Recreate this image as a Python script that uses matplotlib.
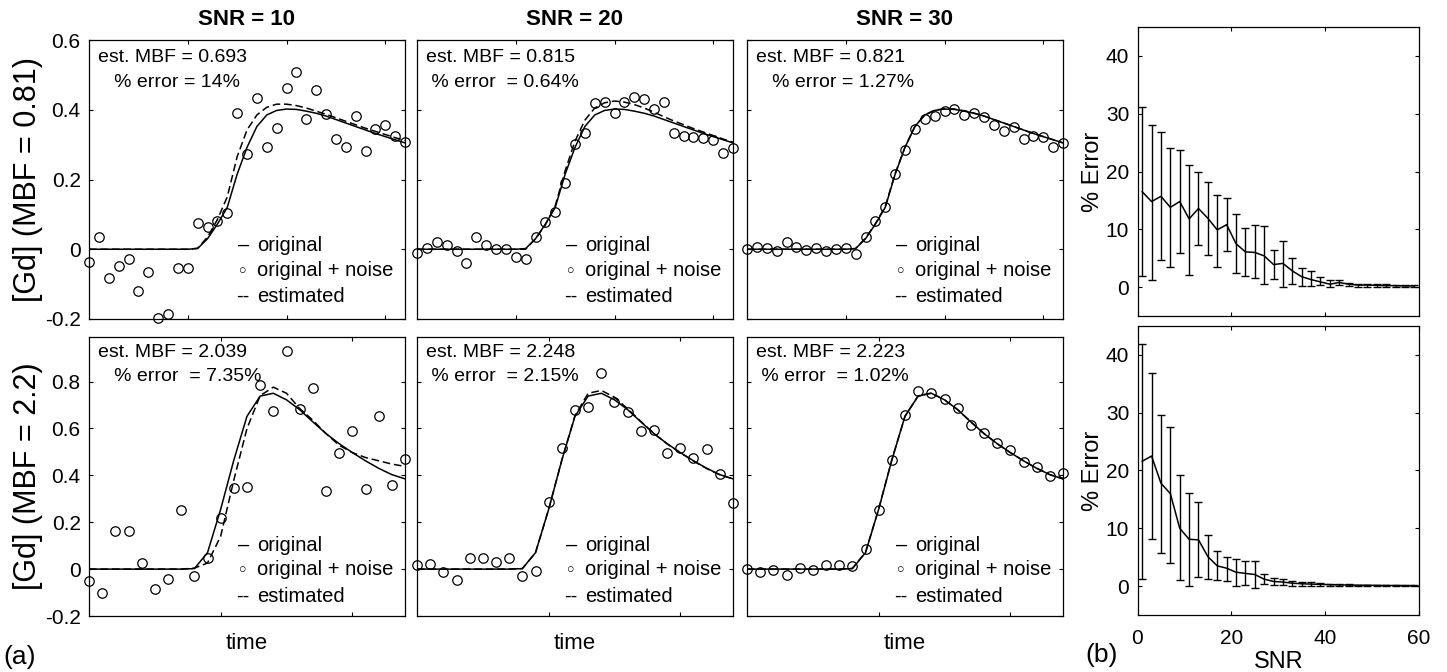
import numpy as np
import matplotlib.pyplot as plt

plt.rcParams['font.family'] = ['Liberation Sans', 'DejaVu Sans']

W, H = 1447, 672

#----------------------------------------------------- DATA
snr_titles = ['SNR = 10', 'SNR = 20', 'SNR = 30']
row_labels = ['[Gd] (MBF = 0.81)', '[Gd] (MBF = 2.2)']

t_top = np.arange(0, 66, 2)   # 33 samples, 0..64
t_bot = np.arange(0, 50, 2)   # 25 samples, 0..48

orig_top = [0, 0, 0, 0, 0, 0, 0, 0, 0, 0, 0,
            0.002, 0.03, 0.072, 0.12, 0.215, 0.292, 0.352, 0.385, 0.398, 0.402, 0.401,
            0.396, 0.39, 0.382, 0.372, 0.362, 0.352, 0.342, 0.332, 0.323, 0.314, 0.305]
est_top = [
    [0, 0, 0, 0, 0, 0, 0, 0, 0, 0, 0,
     0.003, 0.035, 0.085, 0.15, 0.265, 0.342, 0.385, 0.407, 0.416, 0.416, 0.412,
     0.405, 0.396, 0.387, 0.377, 0.367, 0.357, 0.347, 0.338, 0.329, 0.32, 0.312],
    [0, 0, 0, 0, 0, 0, 0, 0, 0, 0, 0,
     0.0, 0.03, 0.07, 0.125, 0.225, 0.31, 0.37, 0.405, 0.42, 0.425, 0.422,
     0.415, 0.405, 0.393, 0.38, 0.368, 0.357, 0.346, 0.336, 0.326, 0.316, 0.307],
    [0, 0, 0, 0, 0, 0, 0, 0, 0, 0, 0,
     0.002, 0.032, 0.073, 0.123, 0.217, 0.293, 0.352, 0.385, 0.399, 0.403, 0.402,
     0.397, 0.39, 0.382, 0.372, 0.362, 0.352, 0.342, 0.332, 0.323, 0.314, 0.305],
]
noisy_top = [
    [-0.036, 0.035, -0.083, -0.048, -0.029, -0.12, -0.064, -0.198, -0.186, -0.055, -0.055,
     0.076, 0.063, 0.082, 0.105, 0.39, 0.272, 0.433, 0.294, 0.347, 0.461, 0.507,
     0.373, 0.457, 0.387, 0.315, 0.292, 0.383, 0.283, 0.344, 0.356, 0.325, 0.308],
    [-0.012, 0.003, 0.022, 0.012, -0.005, -0.038, 0.034, 0.012, 0.001, 0.001, -0.021,
     -0.027, 0.036, 0.079, 0.108, 0.191, 0.302, 0.334, 0.42, 0.423, 0.392, 0.423,
     0.437, 0.43, 0.401, 0.423, 0.332, 0.325, 0.321, 0.318, 0.313, 0.275, 0.29],
    [0.0, 0.006, 0.003, -0.005, 0.022, 0.006, -0.001, 0.003, -0.005, 0.001, 0.003,
     -0.013, 0.036, 0.082, 0.12, 0.216, 0.285, 0.344, 0.373, 0.382, 0.397, 0.403,
     0.384, 0.392, 0.38, 0.356, 0.34, 0.351, 0.315, 0.325, 0.323, 0.292, 0.306],
]

orig_bot = [0, 0, 0, 0, 0, 0, 0, 0,
            0.002, 0.07, 0.255, 0.465, 0.652, 0.738, 0.75, 0.722, 0.68,
            0.628, 0.578, 0.535, 0.497, 0.462, 0.43, 0.403, 0.385]
est_bot = [
    [0, 0, 0, 0, 0, 0, 0, 0,
     0.004, 0.026, 0.14, 0.38, 0.6, 0.74, 0.776, 0.75, 0.685,
     0.635, 0.578, 0.528, 0.497, 0.476, 0.462, 0.448, 0.438],
    [0, 0, 0, 0, 0, 0, 0, 0,
     0.002, 0.07, 0.255, 0.465, 0.655, 0.75, 0.762, 0.733, 0.684,
     0.63, 0.578, 0.534, 0.496, 0.461, 0.429, 0.402, 0.385],
    [0, 0, 0, 0, 0, 0, 0, 0,
     0.003, 0.072, 0.257, 0.466, 0.652, 0.739, 0.751, 0.722, 0.68,
     0.628, 0.578, 0.535, 0.497, 0.462, 0.43, 0.403, 0.385],
]
noisy_bot = [
    [-0.05, -0.10, 0.164, 0.164, 0.026, -0.086, -0.043, 0.251, -0.029, 0.046, 0.219,
     0.347, 0.351, 0.786, 0.676, 0.929, 0.683, 0.772, 0.333, 0.497, 0.59, 0.343,
     0.652, 0.358, 0.47],
    [0.019, 0.022, -0.014, -0.046, 0.046, 0.046, 0.031, 0.046, -0.029, -0.006, 0.286,
     0.516, 0.679, 0.693, 0.836, 0.712, 0.669, 0.59, 0.594, 0.497, 0.516, 0.476,
     0.514, 0.404, 0.283],
    [0.0, -0.014, -0.003, -0.024, 0.004, -0.003, 0.018, 0.018, 0.014, 0.086, 0.251,
     0.466, 0.657, 0.759, 0.752, 0.726, 0.686, 0.614, 0.579, 0.536, 0.508, 0.457,
     0.437, 0.397, 0.409],
]

est_text = [
    [('est. MBF = 0.693', '   % error = 14%'),
     ('est. MBF = 0.815', ' % error  = 0.64%'),
     ('est. MBF = 0.821', '   % error = 1.27%')],
    [('est. MBF = 2.039', '   % error  = 7.35%'),
     ('est. MBF = 2.248', ' % error  = 2.15%'),
     ('est. MBF = 2.223', ' % error  = 1.02%')],
]
legend_marks = ['\u2013', '\u25cb', '--']
legend_words = ['original', 'original + noise', 'estimated']

# panel (b): % error vs SNR
snr = np.arange(1, 61, 2)
err_mean_top = [16.5, 14.8, 15.7, 13.8, 14.8, 11.8, 13.6, 11.9, 9.9, 10.8, 7.5, 6.1, 6.0, 5.4, 3.9,
                4.1, 2.8, 1.8, 1.3, 0.9, 0.5, 0.8, 0.5, 0.35, 0.35, 0.3, 0.25, 0.25, 0.2, 0.2]
err_hi_top = [31.1, 28.1, 26.9, 24.0, 23.7, 21.2, 19.9, 18.1, 16.0, 15.4, 12.7, 10.2, 10.7, 10.6, 6.5,
              8.0, 5.1, 3.3, 2.7, 1.7, 1.2, 1.3, 0.7, 0.6, 0.6, 0.5, 0.45, 0.4, 0.35, 0.35]
err_lo_top = [2.0, 1.3, 4.7, 3.4, 5.9, 2.1, 7.3, 5.6, 3.5, 6.3, 2.4, 2.0, 1.5, 0.5, 1.4,
              0.1, 0.6, 0.2, 0.2, 0.3, 0.1, 0.3, 0.2, 0.1, 0.1, 0.1, 0.1, 0.1, 0.05, 0.05]
err_mean_bot = [21.6, 22.5, 17.8, 16.0, 10.0, 8.1, 8.0, 5.1, 3.5, 3.1, 2.4, 2.2, 2.0, 1.2, 0.8,
                0.7, 0.5, 0.4, 0.35, 0.3, 0.25, 0.2, 0.18, 0.15, 0.15, 0.12, 0.1, 0.1, 0.08, 0.08]
err_hi_bot = [41.9, 36.9, 29.6, 27.6, 19.3, 16.1, 14.5, 8.8, 6.0, 5.1, 4.7, 4.3, 4.3, 2.1, 1.4,
              1.2, 0.9, 0.7, 0.65, 0.5, 0.4, 0.3, 0.28, 0.25, 0.22, 0.2, 0.16, 0.15, 0.12, 0.12]
err_lo_bot = [1.2, 8.2, 5.8, 4.0, 1.1, 0.1, 1.6, 1.3, 1.0, 0.8, 0.1, 0.2, -0.4, 0.3, 0.2,
              0.2, 0.1, 0.1, 0.05, 0.1, 0.1, 0.1, 0.08, 0.05, 0.08, 0.04, 0.04, 0.05, 0.04, 0.04]

#----------------------------------------------------- LAYOUT
fig = plt.figure(figsize=(W / 100, H / 100), dpi=100)

def box(l, t, w, h):  # pixel box -> axes
    return fig.add_axes([l / W, 1 - (t + h) / H, w / W, h / H])

def style(ax):
    for s in ax.spines.values():
        s.set_linewidth(0.9)
    ax.tick_params(direction='in', top=True, right=True, length=2.8, width=0.8,
                   labelsize=15, pad=6)

lefts = [89, 417, 747]
tops = [40, 337]
rows = [
    dict(t=t_top, orig=orig_top, est=est_top, noisy=noisy_top, xlim=(0, 64), xt=[20, 40, 60],
         ylim=(-0.2, 0.6), yt=[-0.2, 0, 0.2, 0.4, 0.6], ytl=['-0.2', '0', '0.2', '0.4', '0.6'],
         ty=(0.939, 0.849), ly=(0.265, 0.173, 0.080)),
    dict(t=t_bot, orig=orig_bot, est=est_bot, noisy=noisy_bot, xlim=(0, 48), xt=[20, 40],
         ylim=(-0.2, 0.99), yt=[-0.2, 0, 0.2, 0.4, 0.6, 0.8],
         ytl=['-0.2', '0', '0.2', '0.4', '0.6', '0.8'],
         ty=(0.944, 0.858), ly=(0.254, 0.165, 0.069)),
]

for r, row in enumerate(rows):
    for c in range(3):
        ax = box(lefts[c], tops[r], 316, 279)
        style(ax)
        ax.plot(row['t'], row['orig'], color='k', lw=1.1)
        ax.plot(row['t'], row['est'][c], color='k', lw=1.1, ls=(0, (5, 2.5)))
        ax.plot(row['t'], row['noisy'][c], 'o', mfc='none', mec='k', ms=6.8, mew=0.9,
                clip_on=False)
        ax.set_xlim(*row['xlim'])
        ax.set_ylim(*row['ylim'])
        ax.set_xticks(row['xt'])
        ax.set_xticklabels([])
        ax.set_yticks(row['yt'])
        if c == 0:
            ax.set_yticklabels(row['ytl'])
        else:
            ax.set_yticklabels([])
        if r == 0:
            ax.set_title(snr_titles[c], fontsize=16, fontweight='bold', pad=11)
        else:
            ax.set_xlabel('time', fontsize=16, labelpad=6)
        l1, l2 = est_text[r][c]
        ax.text(0.028, row['ty'][0], l1, transform=ax.transAxes, fontsize=14, va='center')
        ax.text(0.028, row['ty'][1], l2, transform=ax.transAxes, fontsize=14, va='center')
        for k in range(3):
            fs = 9 if legend_marks[k] == '\u25cb' else 14.5
            ax.text(0.488, row['ly'][k], legend_marks[k], transform=ax.transAxes,
                    fontsize=fs, ha='center', va='center')
            ax.text(0.532, row['ly'][k], legend_words[k], transform=ax.transAxes,
                    fontsize=14.5, va='center')

for r in range(2):
    fig.text(28 / W, 1 - (tops[r] + 139.5) / H, row_labels[r], rotation=90,
             ha='center', va='center', fontsize=22)

# panel (b)
right_sets = [
    (27, err_mean_top, err_lo_top, err_hi_top),
    (326, err_mean_bot, err_lo_bot, err_hi_bot),
]
for k, (top, m, lo, hi) in enumerate(right_sets):
    ax = box(1137.5, top, 281.5, 289)
    style(ax)
    m = np.array(m)
    yerr = [m - np.array(lo), np.array(hi) - m]
    ax.errorbar(snr, m, yerr=yerr, color='k', lw=1.1, elinewidth=1.0, capsize=2.6,
                capthick=1.0)
    ax.set_xlim(0, 60)
    ax.set_ylim(-5, 45)
    ax.set_xticks([0, 20, 40, 60])
    ax.set_yticks([0, 10, 20, 30, 40])
    ax.set_ylabel('% Error', fontsize=17, labelpad=1)
    if k == 0:
        ax.set_xticklabels([])
    else:
        ax.tick_params(axis='x', pad=10)
        ax.set_xlabel('SNR', fontsize=17, labelpad=2)

fig.text(20 / W, 1 - 657 / H, '(a)', fontsize=19, ha='center', va='center')
fig.text(1102 / W, 1 - 655 / H, '(b)', fontsize=19, ha='center', va='center')

fig.savefig('out.png', dpi=100)
